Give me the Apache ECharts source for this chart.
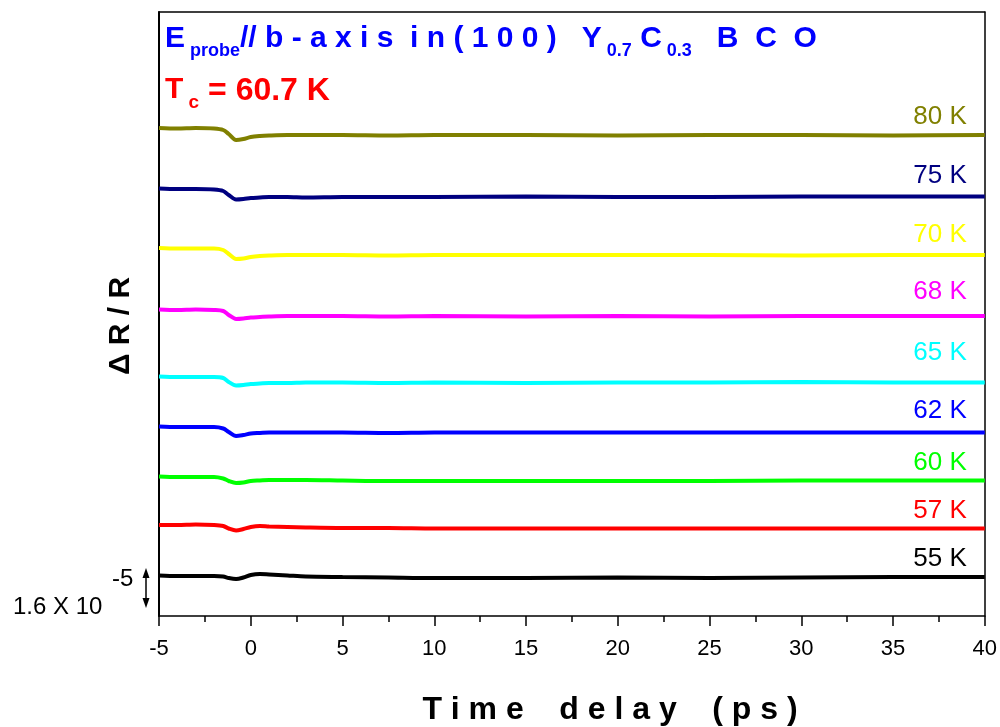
<!DOCTYPE html>
<html><head><meta charset="utf-8">
<script src="https://cdn.jsdelivr.net/npm/echarts@6/dist/echarts.min.js"></script>
<style>html,body{margin:0;padding:0;background:#fff}#c{width:1000px;height:727px}</style>
</head><body><div id="c"></div>
<script>
// time delay (ps)
const times = [-5,-4,-3,-2,-1.5,-1.2,-0.8,-0.4,0,0.5,1,2,3,5,7.5,10,15,20,25,30,35,40];
// ΔR/R in units of 1e-5, curves vertically offset as in the figure
const r80 = [19.48,19.46,19.48,19.46,19.40,19.24,19.00,19.04,19.12,19.16,19.18,19.20,19.20,19.20,19.18,19.20,19.20,19.18,19.20,19.20,19.18,19.20];
const r75 = [17.06,17.04,17.04,17.02,16.96,16.80,16.62,16.64,16.68,16.70,16.72,16.72,16.70,16.72,16.72,16.72,16.74,16.72,16.72,16.74,16.74,16.74];
const r70 = [14.68,14.66,14.66,14.66,14.60,14.44,14.24,14.26,14.32,14.36,14.38,14.40,14.40,14.40,14.38,14.40,14.40,14.40,14.40,14.38,14.40,14.40];
const r68 = [12.22,12.20,12.22,12.20,12.16,12.00,11.84,11.86,11.90,11.92,11.94,11.96,11.96,11.96,11.94,11.96,11.94,11.96,11.94,11.96,11.96,11.96];
const r65 = [9.54,9.52,9.52,9.52,9.48,9.32,9.18,9.20,9.24,9.26,9.28,9.28,9.30,9.30,9.28,9.30,9.28,9.30,9.30,9.32,9.30,9.30];
const r62 = [7.54,7.52,7.52,7.52,7.46,7.32,7.16,7.20,7.26,7.28,7.30,7.30,7.30,7.30,7.28,7.30,7.30,7.30,7.30,7.30,7.30,7.30];
const r60 = [5.54,5.52,5.52,5.52,5.46,5.36,5.28,5.30,5.36,5.38,5.40,5.40,5.40,5.38,5.36,5.36,5.36,5.36,5.36,5.38,5.38,5.38];
const r57 = [3.60,3.60,3.62,3.60,3.56,3.46,3.38,3.44,3.52,3.56,3.54,3.52,3.50,3.48,3.48,3.46,3.46,3.46,3.46,3.46,3.46,3.46];
const r55 = [1.58,1.56,1.56,1.56,1.54,1.48,1.44,1.50,1.60,1.64,1.62,1.58,1.54,1.52,1.50,1.48,1.48,1.50,1.48,1.50,1.52,1.52];
const curveNames = ['80 K','75 K','70 K','68 K','65 K','62 K','60 K','57 K','55 K'];
const curveData = [r80,r75,r70,r68,r65,r62,r60,r57,r55];
// scale bar: 1.6 x 10^-5
const scaleBarLow = 0.28;
const scaleBarHigh = 1.88;
const xTickLabels = ['-5','0','5','10','15','20','25','30','35','40'];

// styling
const curveColors = ['#808000','#000080','#ffff00','#ff00ff','#00ffff','#0000ff','#00ff00','#ff0000','#000000'];
const labelDy = [-18,-21,-20,-24,-30,-22,-18,-18,-18];
const FF = 'Arial, "Liberation Sans", sans-serif';

const chart = echarts.init(document.getElementById('c'), null, {renderer:'canvas'});
const option = {
  animation: false,
  backgroundColor: '#fff',
  grid: {left: 159, right: 15, top: 12, bottom: 111},
  xAxis: [{
    type: 'value', min: -5, max: 40, interval: 5, position: 'bottom',
    axisLine: {show: true, onZero: false, lineStyle: {color: '#000', width: 1.5}},
    axisTick: {show: true, inside: false, length: 10, lineStyle: {color: '#000', width: 1.5}},
    minorTick: {show: true, splitNumber: 2, length: 6, lineStyle: {color: '#000', width: 1.5}},
    axisLabel: {margin: 22, color: '#000', fontSize: 22, fontFamily: FF,
      formatter: (v) => xTickLabels[Math.round((v + 5) / 5)]},
    splitLine: {show: false}
  }, {
    type: 'value', min: -5, max: 40, position: 'top',
    axisLine: {show: true, onZero: false, lineStyle: {color: '#000', width: 1.5}},
    axisTick: {show: false}, axisLabel: {show: false}, splitLine: {show: false}
  }],
  yAxis: [{
    type: 'value', min: -0.04, max: 24.12, position: 'left',
    axisLine: {show: true, onZero: false, lineStyle: {color: '#000', width: 2}},
    axisTick: {show: false}, axisLabel: {show: false}, splitLine: {show: false}
  }, {
    type: 'value', min: -0.04, max: 24.12, position: 'right',
    axisLine: {show: true, onZero: false, lineStyle: {color: '#000', width: 1.5}},
    axisTick: {show: false}, axisLabel: {show: false}, splitLine: {show: false}
  }],
  series: curveData.map((arr, k) => ({
    type: 'line', name: curveNames[k], xAxisIndex: 0, yAxisIndex: 0,
    data: times.map((t, i) => [t, arr[i]]),
    showSymbol: false, smooth: 0.3,
    lineStyle: {color: curveColors[k], width: 4},
    itemStyle: {color: curveColors[k]},
    z: 3
  }))
};
chart.setOption(option);

const graphics = [];
// curve labels
curveData.forEach((arr, k) => {
  const p = chart.convertToPixel({xAxisIndex: 0, yAxisIndex: 0}, [times[times.length - 1], arr[arr.length - 1]]);
  graphics.push({type: 'text', x: p[0] - 18, y: p[1] + labelDy[k],
    style: {text: curveNames[k], fill: curveColors[k], font: '26px ' + FF, textAlign: 'right', textVerticalAlign: 'middle'}});
});
// title
graphics.push({type: 'text', x: 165, y: 24, style: {
  text: '{b|E}{s| probe}{b|// b - a x i s  i n ( 1 0 0 )   Y}{s| 0.7}{b| C}{s| 0.3}{b|   B  C  O}',
  textVerticalAlign: 'top', textAlign: 'left',
  rich: {
    b: {fontSize: 30, fontWeight: 'bold', fontFamily: FF, fill: '#0000ff', lineHeight: 30, verticalAlign: 'top'},
    s: {fontSize: 18, fontWeight: 'bold', fontFamily: FF, fill: '#0000ff', lineHeight: 36, verticalAlign: 'bottom'}
  }
}});
graphics.push({type: 'text', x: 165, y: 75, style: {
  text: '{b|T}{s| c}{w| = 60.7 K}',
  textVerticalAlign: 'top', textAlign: 'left',
  rich: {
    b: {fontSize: 30, fontWeight: 'bold', fontFamily: FF, fill: '#ff0000', lineHeight: 30, verticalAlign: 'top'},
    w: {fontSize: 32, fontWeight: 'bold', fontFamily: FF, fill: '#ff0000', lineHeight: 30, verticalAlign: 'top'},
    s: {fontSize: 19, fontWeight: 'bold', fontFamily: FF, fill: '#ff0000', lineHeight: 37, verticalAlign: 'bottom'}
  }
}});
// axis titles
graphics.push({type: 'text', x: 610, y: 710, style: {
  text: 'T i m e    d e l a y    ( p s )', font: 'bold 32px ' + FF, fill: '#000',
  textAlign: 'center', textVerticalAlign: 'middle'}});
graphics.push({type: 'text', x: 121, y: 326, rotation: Math.PI / 2, style: {
  text: 'Δ R / R', font: 'bold 30px ' + FF, fill: '#000',
  textAlign: 'center', textVerticalAlign: 'middle'}});
// scale bar
const pTop = chart.convertToPixel({yAxisIndex: 0}, scaleBarHigh);
const pBot = chart.convertToPixel({yAxisIndex: 0}, scaleBarLow);
const ax = 146;
graphics.push({type: 'line', shape: {x1: ax, y1: pTop + 6, x2: ax, y2: pBot - 6}, style: {stroke: '#000', lineWidth: 1.5}});
graphics.push({type: 'polygon', shape: {points: [[ax, pTop], [ax - 3.5, pTop + 10], [ax + 3.5, pTop + 10]]}, style: {fill: '#000'}});
graphics.push({type: 'polygon', shape: {points: [[ax, pBot], [ax - 3.5, pBot - 10], [ax + 3.5, pBot - 10]]}, style: {fill: '#000'}});
graphics.push({type: 'text', x: 13, y: 607, style: {text: '1.6 X 10', font: '24px ' + FF, fill: '#000', textAlign: 'left', textVerticalAlign: 'middle'}});
graphics.push({type: 'text', x: 112, y: 579, style: {text: '-5', font: '24px ' + FF, fill: '#000', textAlign: 'left', textVerticalAlign: 'middle'}});

chart.setOption({graphic: graphics});
</script>
</body></html>
